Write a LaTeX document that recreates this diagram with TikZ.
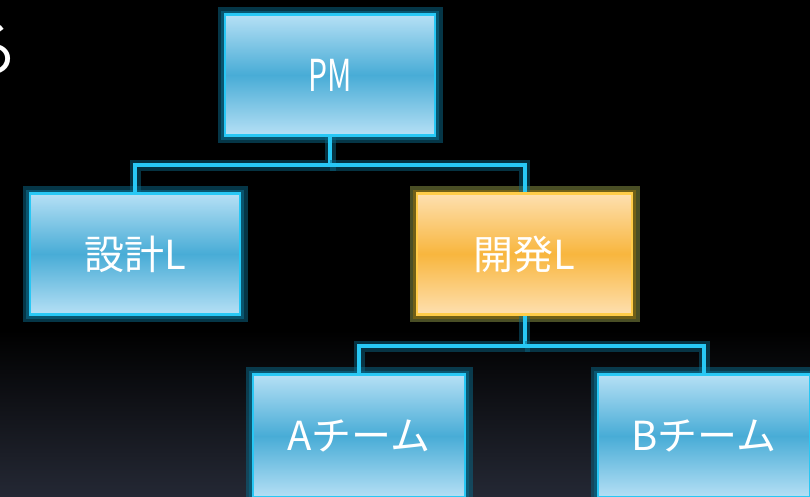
\documentclass[tikz,border=0pt]{standalone}
\usepackage{fontspec}
\newfontfamily\jpfont{Noto Sans CJK JP}
\definecolor{boxblue}{RGB}{72,172,214}
\definecolor{boxlight}{RGB}{182,224,245}
\definecolor{edgeblue}{RGB}{40,200,245}
\definecolor{glowblue}{RGB}{10,100,130}
\definecolor{boxorange}{RGB}{248,182,62}
\definecolor{orangelight}{RGB}{254,224,176}
\definecolor{edgeorange}{RGB}{255,204,72}
\definecolor{gloworange}{RGB}{130,98,10}
\definecolor{bgbottom}{RGB}{36,40,52}

\begin{document}
\begin{tikzpicture}[x=1pt,y=-1pt]
        \tikzstyle{post}=[draw=edgeblue,line width=2.5pt,top color=boxlight,bottom color=boxlight,middle color=boxblue,text=white,font=\jpfont\fontsize{40}{44}\selectfont,inner sep=0pt,minimum width=210pt,minimum height=121pt,preaction={draw=glowblue,line width=15pt,opacity=0.55},preaction={draw=glowblue,line width=8pt,opacity=0.7}]
        \tikzstyle{lead}=[post,draw=edgeorange,top color=orangelight,bottom color=orangelight,middle color=boxorange,preaction={draw=gloworange,line width=15pt,opacity=0.55},preaction={draw=gloworange,line width=8pt,opacity=0.7}]
        \tikzstyle{link}=[draw=edgeblue,line width=4pt,preaction={draw=glowblue,line width=11pt,opacity=0.5}]
        % background
        \fill[black] (0,0) rectangle (810,496);
        \shade[top color=black,bottom color=bgbottom] (0,330) rectangle (810,496);
        \useasboundingbox (0,0) rectangle (810,496);
        \node[anchor=east,inner sep=0pt,text=white,font=\jpfont\fontsize{62}{64}\selectfont] (kana) at (20,50) {る};
        % boxes
        \node[post] (pm) at (330,75) {\scalebox{0.75}[1.1]{PM}};
        \node[post] (sekkei) at (135,254) {設計L};
        \node[lead,minimum width=215pt] (kaihatsu) at (524.5,254) {開発L};
        \node[post,minimum width=212pt,minimum height=123pt] (ateam) at (359,436) {Aチーム};
        \node[post,minimum width=212pt,minimum height=123pt] (bteam) at (704,436) {Bチーム};
        % connectors
        \coordinate (j1) at (330,165);
        \coordinate (j2) at (524.5,346);
        \draw[link] (pm.south) -- (j1) -| (sekkei.north);
        \draw[link] (j1) -| (kaihatsu.north);
        \draw[link] (kaihatsu.south) -- (j2) -| (ateam.north);
        \draw[link] (j2) -| (bteam.north);
\end{tikzpicture}
\end{document}
